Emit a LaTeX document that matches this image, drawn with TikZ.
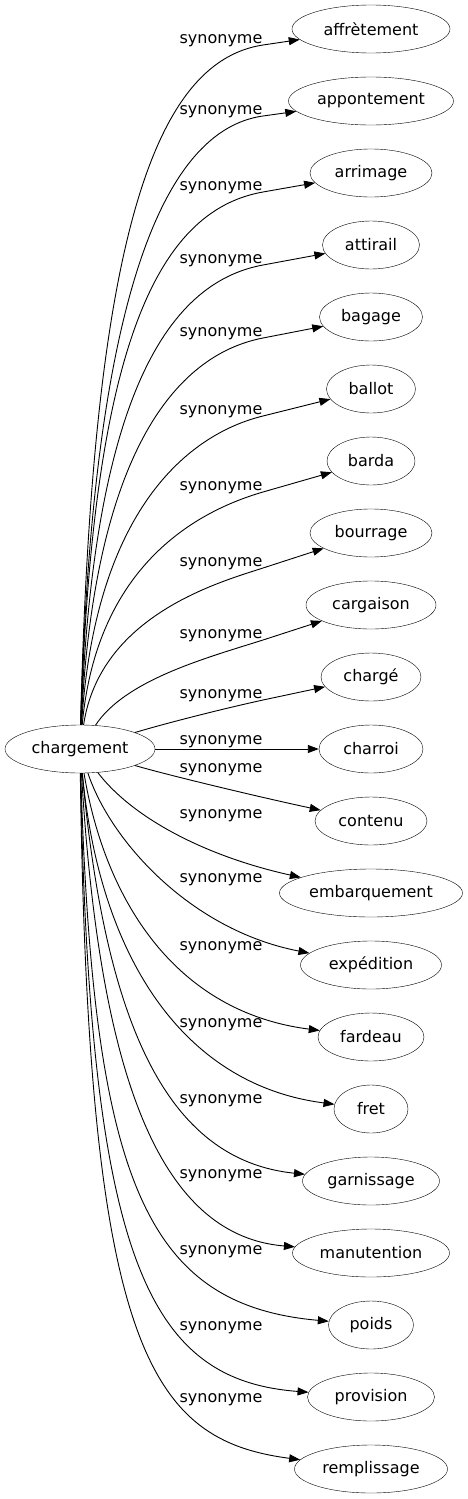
\documentclass[tikz,border=0pt]{standalone}
\usepackage{fontspec}
\setmainfont{DejaVu Sans}
\usetikzlibrary{arrows.meta, shapes.geometric}

\begin{document}
\begin{tikzpicture}[x=1pt, y=-1pt,
    word/.style={draw, ellipse, inner sep=0pt, minimum height=48pt, font=\fontsize{16pt}{19pt}\selectfont},
    linklabel/.style={anchor=base, inner sep=0pt, font=\fontsize{16pt}{19pt}\selectfont},
    link/.style={-{Triangle[length=11pt, width=8pt]}, line width=0.9pt}]
  % Settings
  \def\wx{371} % x of the synonyms
  \def\lx{221} % x of the edge labels
  \useasboundingbox (0,0) rectangle (467,1499);

  % Source word
  \node[word, minimum width=150pt] (chargement) at (80,749) {chargement};

  % Synonyms above: name/text/y/label y/width/first control/second control
  \foreach \n/\t/\y/\l/\w/\ax/\ay/\bx/\by in {
      affretement/affrètement/29/37/158/92/249/151/62,
      appontement/appontement/101/108/165/92/299/163/130,
      arrimage/arrimage/173/184/122/92/352/155/211,
      attirail/attirail/245/257/97/93/403/165/283,
      bagage/bagage/317/330/103/94/454/175/355,
      ballot/ballot/389/408/89/95/509/189/434,
      barda/barda/461/484/88/97/562/201/510,
      bourrage/bourrage/533/560/122/100/615/220/582,
      cargaison/cargaison/605/632/130/125/680/206/658,
      charge/chargé/677/692/100/160/725/213/711} {
    \node[word, minimum width=\w pt] (\n) at (\wx,\y) {\t};
    \node[linklabel] (lab-\n) at (\lx,{\l+6}) {synonyme};
    % curve runs under the right end of its label
    \draw[link] (chargement) .. controls (\ax,\ay) and (\bx,\by) .. (263,{\l+8}) -- (\n);
  }

  % Straight one
  \node[word, minimum width=104pt] (charroi) at (\wx,749) {charroi};
  \node[linklabel] (lab-charroi) at (\lx,744) {synonyme};
  \draw[link] (chargement) -- (charroi);

  % Synonyms below
  \foreach \n/\t/\y/\l/\w/\ax/\ay/\bx/\by in {
      contenu/contenu/821/766/112/160/773/250/795,
      embarquement/embarquement/893/812/183/130/815/200/855,
      expedition/expédition/965/876/141/110/840/190/930,
      fardeau/fardeau/1037/944/106/105/900/175/1012,
      fret/fret/1109/1021/74/100/960/185/1085,
      garnissage/garnissage/1181/1097/137/105/1020/165/1160,
      manutention/manutention/1253/1172/157/98/1050/150/1235,
      poids/poids/1325/1248/85/93/1180/145/1305,
      provision/provision/1397/1324/127/90/1260/148/1380,
      remplissage/remplissage/1469/1396/153/88/1350/150/1440} {
    \node[word, minimum width=\w pt] (\n) at (\wx,\y) {\t};
    \node[linklabel] (lab-\n) at (\lx,{\l+6}) {synonyme};
    \draw[link] (chargement) .. controls (\ax,\ay) and (\bx,\by) .. (\n);
  }

\end{tikzpicture}
\end{document}
